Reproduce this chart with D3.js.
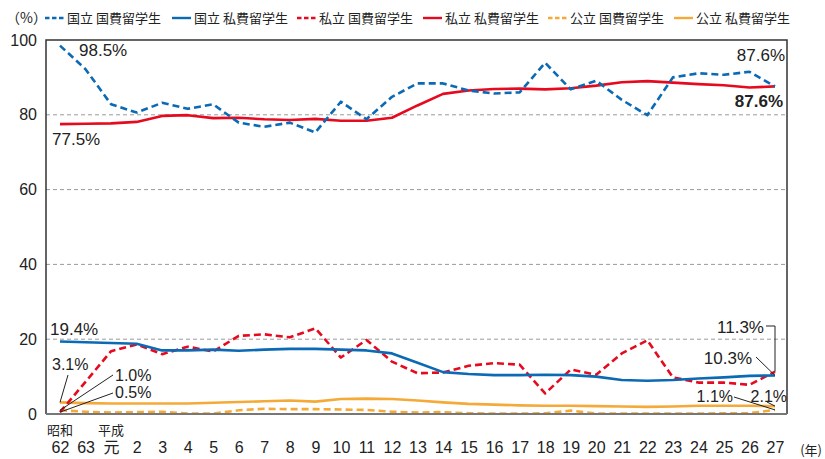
<!DOCTYPE html>
<html><head><meta charset="utf-8">
<script src="https://cdn.jsdelivr.net/npm/d3@7"></script>
<style>
body{margin:0;background:#fff;}
svg text{font-family:"Liberation Sans",Arial,"Noto Sans CJK JP",sans-serif;fill:#222;}
.cjk{font-family:"Noto Sans CJK JP","Liberation Sans",sans-serif !important;}
</style></head>
<body><svg id="c" width="825" height="459"></svg>
<script>
const categories = ["62","63","元","2","3","4","5","6","7","8","9","10","11","12","13","14","15","16","17","18","19","20","21","22","23","24","25","26","27"];
const eraLabels = ["昭和","","平成"];
const yTicks = [0,20,40,60,80,100];
const kokuritsuKokuhi = [98.5,92.2,82.8,80.6,83.2,81.6,82.8,77.9,76.8,77.9,75.3,83.5,78.8,84.8,88.4,88.4,86.5,85.7,86.0,93.9,86.8,89.1,84.0,79.9,90.0,91.1,90.7,91.5,87.6];
const kokuritsuShihi = [19.4,19.2,19.0,18.8,17.0,17.0,17.2,16.9,17.2,17.4,17.4,17.2,17.0,16.2,13.7,11.2,10.7,10.4,10.4,10.5,10.4,10.0,9.1,8.9,9.1,9.5,9.8,10.2,10.3];
const shiritsuKokuhi = [0.5,8.6,16.8,18.6,16.0,18.0,16.7,20.9,21.3,20.5,22.9,15.1,19.8,14.0,10.9,11.1,12.9,13.6,13.2,5.5,11.9,10.5,16.2,19.7,9.8,8.4,8.4,7.8,11.3];
const shiritsuShihi = [77.5,77.6,77.7,78.1,79.7,79.9,79.1,79.2,78.8,78.6,78.9,78.4,78.4,79.2,82.5,85.6,86.5,86.9,87.0,86.8,87.1,87.8,88.7,89.0,88.6,88.2,87.9,87.3,87.6];
const kouritsuKokuhi = [1.0,0.6,0.4,0.5,0.6,0.1,0.1,1.0,1.4,1.3,1.3,1.2,1.1,0.6,0.4,0.5,0.2,0.1,0.1,0.2,0.9,0.1,0.1,0.1,0.1,0.1,0.2,0.2,1.1];
const kouritsuShihi = [3.1,2.9,2.8,2.8,2.8,2.8,3.0,3.2,3.4,3.6,3.3,4.0,4.1,4.0,3.6,3.1,2.7,2.5,2.3,2.2,2.2,2.1,2.0,1.9,2.0,2.2,2.2,2.2,2.1];
const seriesNames = ["国立 国費留学生","国立 私費留学生","私立 国費留学生","私立 私費留学生","公立 国費留学生","公立 私費留学生"];

const BLUE="#0b6ab5", RED="#e60a1e", ORANGE="#f5aa38";
const series = [
  {name:seriesNames[0], data:kokuritsuKokuhi, color:BLUE, dash:true},
  {name:seriesNames[1], data:kokuritsuShihi, color:BLUE, dash:false},
  {name:seriesNames[2], data:shiritsuKokuhi, color:RED, dash:true},
  {name:seriesNames[3], data:shiritsuShihi, color:RED, dash:false},
  {name:seriesNames[4], data:kouritsuKokuhi, color:ORANGE, dash:true},
  {name:seriesNames[5], data:kouritsuShihi, color:ORANGE, dash:false}
];

const svg = d3.select("#c");
const L=46, R=787, T=40, B=414;
const x = d3.scalePoint().domain(categories).range([60,775]);
const y = d3.scaleLinear().domain([0,100]).range([B,T]);

// gridlines
svg.append("g").selectAll("line").data(yTicks.filter(d=>d>0&&d<100)).join("line")
  .attr("x1",L).attr("x2",R).attr("y1",d=>y(d)).attr("y2",d=>y(d))
  .attr("stroke","#9a9a9a").attr("stroke-width",1).attr("stroke-dasharray","4,3");

// y axis
const yAxis = svg.append("g").attr("transform",`translate(${L},0)`)
  .call(d3.axisLeft(y).tickValues(yTicks).tickSize(0).tickPadding(9));
yAxis.select(".domain").remove();
yAxis.selectAll("text").attr("font-size",16).attr("fill","#222").style("font-family","Liberation Sans, Arial, sans-serif");

// x axis
const xAxis = svg.append("g").attr("transform",`translate(0,${B})`)
  .call(d3.axisBottom(x).tickSize(0).tickPadding(28));
xAxis.select(".domain").remove();
xAxis.selectAll("text").attr("font-size",16).attr("fill","#222").style("font-family","Liberation Sans, Arial, \"Noto Sans CJK JP\", sans-serif");
svg.append("g").selectAll("text").data(eraLabels.map((t,i)=>({t,c:categories[i]})).filter(d=>d.t)).join("text")
  .attr("class","cjk").attr("x",d=>x(d.c)).attr("y",435).attr("text-anchor","middle")
  .attr("font-size",13).text(d=>d.t);
svg.append("text").attr("class","cjk").attr("x",822).attr("y",455).attr("text-anchor","end").attr("font-size",13).text("(年)");

// lines
const line = d3.line().x((d,i)=>x(categories[i])).y(d=>y(d));
const order = [5,4,2,1,3,0];
svg.append("g").selectAll("path").data(order.map(i=>series[i])).join("path")
  .attr("d",d=>line(d.data)).attr("fill","none").attr("stroke",d=>d.color)
  .attr("stroke-width",2.6).attr("stroke-dasharray",d=>d.dash?"7,4":null)
  .attr("stroke-linejoin","round");

// frame
svg.append("path").attr("d",`M${L},${B}V${T}H${R}V${B}`).attr("fill","none").attr("stroke","#333").attr("stroke-width",1.5);
svg.append("line").attr("x1",L).attr("x2",R).attr("y1",B).attr("y2",B).attr("stroke","#777").attr("stroke-width",2.2);

// legend
svg.append("text").attr("class","cjk").attr("x",6).attr("y",23).attr("font-size",14).text("（%）");
const legX = [45,172,297,423,548,674];
const lg = svg.append("g").selectAll("g").data(series).join("g")
  .attr("transform",(d,i)=>`translate(${legX[i]},18)`);
lg.append("line").attr("x1",0).attr("x2",19).attr("y1",0).attr("y2",0)
  .attr("stroke",d=>d.color).attr("stroke-width",2.4).attr("stroke-dasharray",d=>d.dash?"4.5,2.5":null);
lg.append("text").attr("class","cjk").attr("x",22).attr("y",5).attr("font-size",13).text(d=>d.name);

// annotations
const ann = svg.append("g");
function lab(t,xx,yy,opt={}){
  return ann.append("text").attr("x",xx).attr("y",yy).attr("font-size",opt.size||17)
    .attr("text-anchor",opt.anchor||"start").attr("font-weight",opt.bold?"bold":null).text(t);
}
const last = categories.length-1;
const px = i=>x(categories[i]);
lab(kokuritsuKokuhi[0].toFixed(1)+"%", 79, 56);
lab(shiritsuShihi[0].toFixed(1)+"%", 52, 145);
lab(kokuritsuKokuhi[last].toFixed(1)+"%", 785, 61, {anchor:"end"});
lab(shiritsuShihi[last].toFixed(1)+"%", 783, 107, {anchor:"end",bold:true});
lab(kokuritsuShihi[0].toFixed(1)+"%", 50, 335);
lab(kouritsuShihi[0].toFixed(1)+"%", 52, 370, {size:16});
lab(kouritsuKokuhi[0].toFixed(1)+"%", 115, 381, {size:16});
lab(shiritsuKokuhi[0].toFixed(1)+"%", 115, 398, {size:16});
lab(shiritsuKokuhi[last].toFixed(1)+"%", 764, 333, {anchor:"end"});
lab(kokuritsuShihi[last].toFixed(1)+"%", 752, 364, {anchor:"end"});
lab(kouritsuKokuhi[last].toFixed(1)+"%", 733, 402, {anchor:"end",size:16});
lab(kouritsuShihi[last].toFixed(1)+"%", 787, 402, {anchor:"end",size:16});
const leader = (pts)=>ann.append("path").attr("d",d3.line()(pts)).attr("fill","none").attr("stroke","#222").attr("stroke-width",1);
leader([[68,375],[px(0),y(kouritsuShihi[0])]]);
leader([[113,375],[px(0),y(kouritsuKokuhi[0])]]);
leader([[113,393],[px(0),y(shiritsuKokuhi[0])]]);
leader([[766,326],[px(last),326],[px(last),y(shiritsuKokuhi[last])]]);
leader([[756,357],[px(last),y(kokuritsuShihi[last])]]);
leader([[734,397],[px(last),y(kouritsuKokuhi[last])]]);
leader([[767,402],[px(last),y(kouritsuShihi[last])]]);
</script></body></html>
